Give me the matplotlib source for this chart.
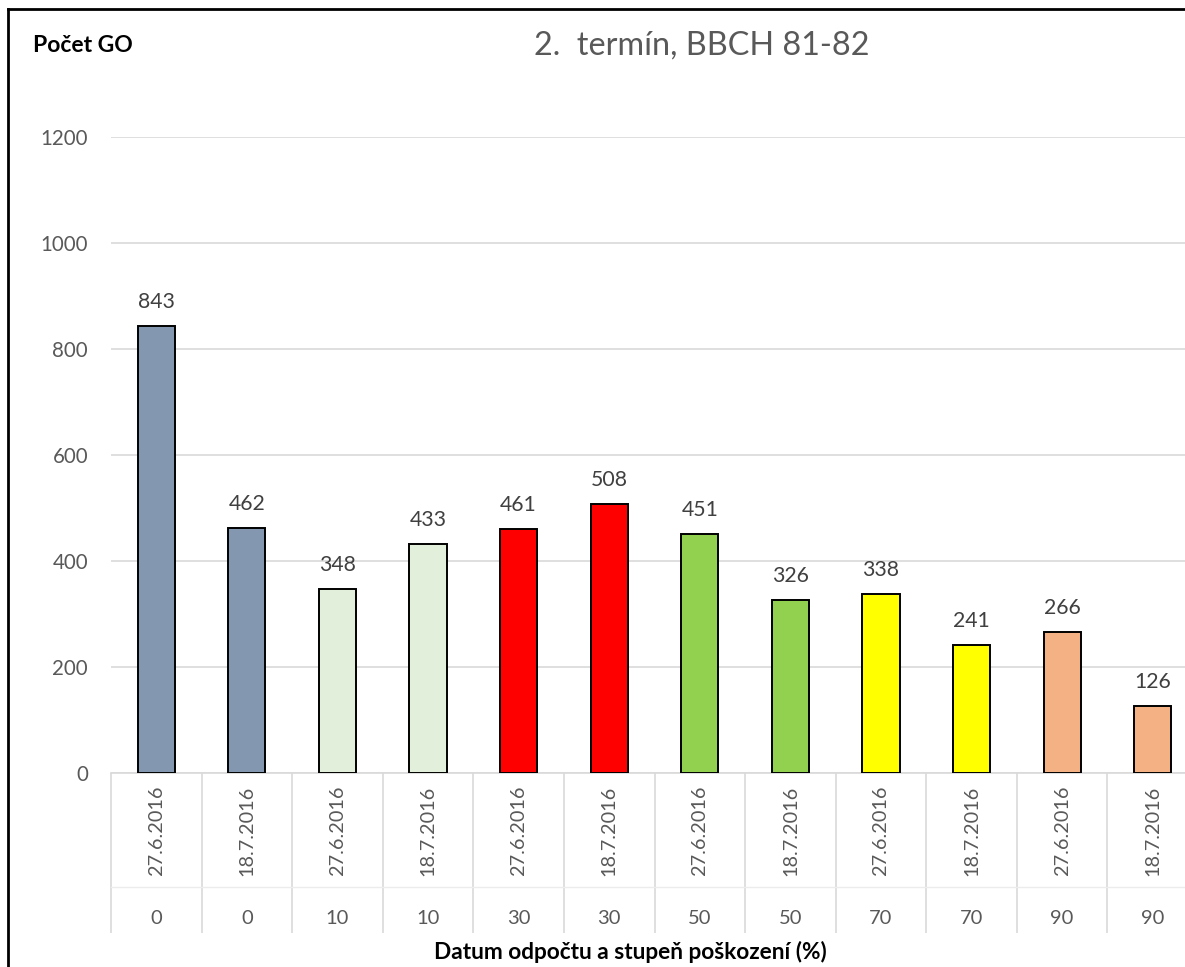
import matplotlib.pyplot as plt
from matplotlib.lines import Line2D

plt.rcParams['font.family'] = ['Lato', 'DejaVu Sans']

dates = ["27.6.2016", "18.7.2016"] * 6
damage = ["0", "0", "10", "10", "30", "30", "50", "50", "70", "70", "90", "90"]
counts = [843, 462, 348, 433, 461, 508, 451, 326, 338, 241, 266, 126]
colors = ["#8497B0", "#8497B0", "#E2EFDA", "#E2EFDA", "#FF0000", "#FF0000",
          "#92D050", "#92D050", "#FFFF00", "#FFFF00", "#F4B183", "#F4B183"]

W, H = 1185, 967
fig = plt.figure(figsize=(W / 100, H / 100), dpi=100)
ax = fig.add_axes([111 / W, (H - 773) / H, (1198 - 111) / W, (773 - 137) / H])

x = list(range(len(counts)))
ax.bar(x, counts, width=0.41, color=colors, edgecolor="black", linewidth=1.4, zorder=3)
for xi, v in zip(x, counts):
    ax.annotate(str(v), (xi, v), xytext=(0, 10), textcoords="offset points",
                ha="center", va="bottom", fontsize=15.3, color="#404040")

ax.set_xlim(-0.5, len(counts) - 0.5)
ax.set_ylim(0, 1200)
ax.set_yticks(range(0, 1201, 200))
ax.grid(axis="y", color="#d9d9d9", linewidth=1.2, zorder=0)
ax.tick_params(axis="y", length=0, pad=16.5, labelsize=14.8, labelcolor="#595959")
for s in ["top", "right", "left"]:
    ax.spines[s].set_visible(False)
ax.spines["bottom"].set_color("#d9d9d9")
ax.spines["bottom"].set_linewidth(1.2)

# category separators and two-level labels
ax.set_xticks([i - 0.5 for i in range(len(counts) + 1)])
ax.set_xticklabels([])
ax.tick_params(axis="x", length=115, width=1.2, color="#d9d9d9")
tr = ax.get_xaxis_transform()
for xi, d, g in zip(x, dates, damage):
    ax.text(xi, -58 / 636, d, transform=tr, rotation=90, ha="center", va="center",
            fontsize=14.3, color="#595959")
    ax.text(xi, -146 / 636, g, transform=tr, ha="center", va="center",
            fontsize=14.5, color="#595959")
ax.plot([-0.5, len(counts) - 0.5], [-114 / 636] * 2, transform=tr, color="#ececec",
        linewidth=1, clip_on=False)

fig.text(702 / W, 1 - 46 / H, "2.  termín, BBCH 81-82", ha="center", va="center",
         fontsize=23.3, color="#595959")
fig.text(33 / W, 1 - 46 / H, "Počet GO", ha="left", va="center",
         fontsize=16.5, fontweight="bold", color="black")
fig.text(630 / W, 1 - 952 / H, "Datum odpočtu a stupeň poškození (%)", ha="center",
         va="center", fontsize=16.3, fontweight="bold", color="black")

# outer chart border
fig.add_artist(Line2D([8 / W, 8 / W], [0, 1 - 9 / H], color="black", linewidth=2))
fig.add_artist(Line2D([8 / W, 1], [1 - 9 / H, 1 - 9 / H], color="black", linewidth=2))

fig.savefig("out.png", dpi=100)
